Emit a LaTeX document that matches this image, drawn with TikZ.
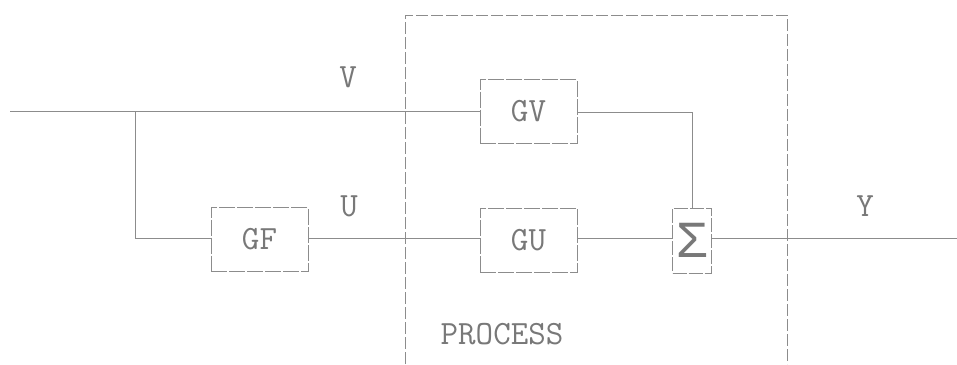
\documentclass[tikz,border=0pt]{standalone}
\usepackage{fontspec}
\newfontfamily\sigfont{Liberation Mono}
\definecolor{ink}{RGB}{140,140,140}
\definecolor{txt}{RGB}{120,120,120}
\begin{document}
\begin{tikzpicture}[x=1pt,y=-1pt,
  wire/.style={draw=ink,line width=0.9pt},
  blockbox/.style={draw=ink,line width=0.9pt,dash pattern=on 16pt off 2pt,rectangle,inner sep=0pt,
    minimum width=97pt,minimum height=64pt,text=txt,font=\ttfamily\fontsize{34}{34}\selectfont},
  sumbox/.style={draw=ink,line width=0.9pt,dash pattern=on 14pt off 2pt,rectangle,inner sep=0pt,
    minimum width=39pt,minimum height=65pt,text=txt,font=\sigfont\fontsize{52}{52}\selectfont},
  lbl/.style={text=txt,inner sep=0pt,font=\ttfamily\fontsize{34}{34}\selectfont},
  procbox/.style={draw=ink,line width=0.9pt,dash pattern=on 12pt off 3pt}]
\useasboundingbox (0,0) rectangle (957,364);
% process boundary (open at the bottom)
\draw[procbox] (405,364) -- (405,15) -- (787,15) -- (787,364);
% blocks
\node[blockbox] (gv) at (528.5,111.5) {GV};
\node[blockbox] (gu) at (528.5,240) {GU};
\node[blockbox] (gf) at (259.5,239.5) {GF};
\node[sumbox] (sum) at (692,240.5) {Σ};
% labels
\node[lbl] (lv) at (348,77) {V};
\node[lbl] (lu) at (349,206) {U};
\node[lbl] (ly) at (865,206) {Y};
\node[lbl] (lp) at (502,334) {PROCESS};
% coordinates
\coordinate (vin) at (10,111);
\coordinate (br) at (135,111);
\coordinate (yout) at (957,238);
% connectors
\draw[wire] (vin) -- (gv.west |- 0,111);
\draw[wire] (br) |- (gf.west |- 0,238);
\draw[wire] (gf.east |- 0,238) -- (gu.west |- 0,238);
\draw[wire] (gv.east |- 0,112) -| (sum.north);
\draw[wire] (gu.east |- 0,238) -- (sum.west |- 0,238);
\draw[wire] (sum.east |- 0,238) -- (yout);
\end{tikzpicture}
\end{document}
